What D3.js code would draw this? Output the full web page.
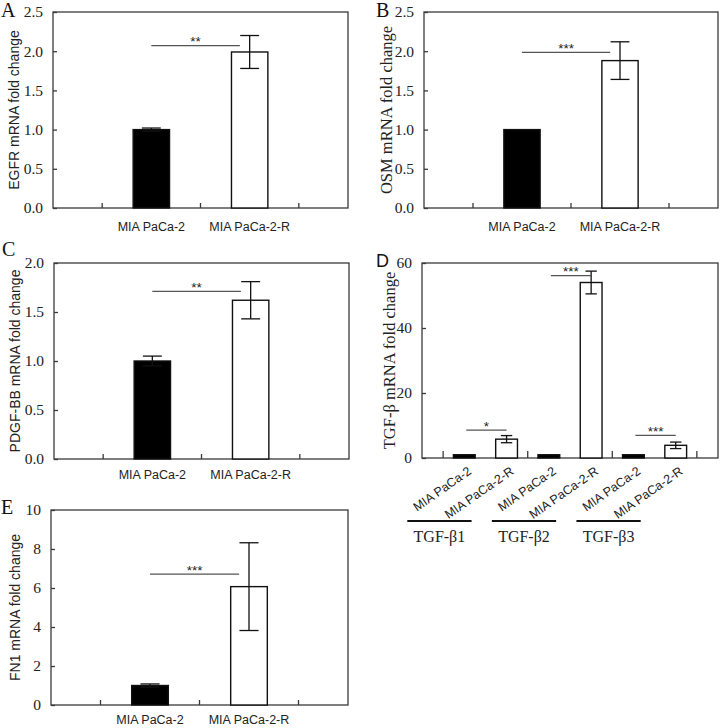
<!DOCTYPE html>
<html><head><meta charset="utf-8">
<script src="https://cdn.jsdelivr.net/npm/d3@7"></script>
<style>body{margin:0;background:#fff}svg{display:block}</style></head>
<body>
<script>
// ---------- data ----------
const cellLines = ["MIA PaCa-2", "MIA PaCa-2-R"];

const egfrMean = [1.00, 1.99];
const egfrErr  = [0.02, 0.21];
const osmMean  = [1.00, 1.88];
const osmErr   = [0.00, 0.24];
const pdgfMean = [1.00, 1.62];
const pdgfErr  = [0.05, 0.19];
const fn1Mean  = [1.00, 6.07];
const fn1Err   = [0.08, 2.25];

const tgfGenes  = ["TGF-β1", "TGF-β2", "TGF-β3"];
const tgfLabels = ["MIA PaCa-2", "MIA PaCa-2-R", "MIA PaCa-2", "MIA PaCa-2-R", "MIA PaCa-2", "MIA PaCa-2-R"];
const tgfMean   = [1.0, 5.8, 1.0, 54.0, 1.0, 3.9];
const tgfErr    = [0.0, 1.1, 0.0, 3.5, 0.0, 1.0];

const ticksA = [0, 0.5, 1.0, 1.5, 2.0, 2.5];
const ticksB = [0, 0.5, 1.0, 1.5, 2.0, 2.5];
const ticksC = [0, 0.5, 1.0, 1.5, 2.0];
const ticksD = [0, 20, 40, 60];
const ticksE = [0, 2, 4, 6, 8, 10];

// significance brackets: label, height (data units)
const sigA = [{label: "**",  y: 2.07}];
const sigB = [{label: "***", y: 1.985}];
const sigC = [{label: "**",  y: 1.71}];
const sigD = [{label: "*", y: 8.6, from: 0, to: 1}, {label: "***", y: 56.1, from: 2, to: 3}, {label: "***", y: 6.95, from: 4, to: 5}];
const sigE = [{label: "***", y: 6.71}];

// ---------- drawing ----------
const svg = d3.select("body").append("svg").attr("width", 720).attr("height", 728);
const SERIF = "'Liberation Serif','Times New Roman',serif";
const SANS  = "'Liberation Sans',Arial,sans-serif";
const FRAME = "#3a3a3a";

function frameAndY(g, box, y, ticks, fmt) {
  g.append("rect").attr("x", box.l).attr("y", box.t)
    .attr("width", box.r - box.l).attr("height", box.b - box.t)
    .attr("fill", "none").attr("stroke", FRAME).attr("stroke-width", 1.3);
  const ax = g.append("g").attr("transform", `translate(${box.l},0)`)
    .call(d3.axisLeft(y).tickValues(ticks).tickFormat(fmt).tickSize(-4).tickPadding(10));
  ax.select(".domain").remove();
  ax.selectAll("line").attr("stroke", FRAME).attr("stroke-width", 1.3);
  ax.selectAll("text").attr("font-family", SERIF).attr("font-size", 15.5).attr("fill", "#222");
}

function ylabel(g, text, x, cy, font, size) {
  g.append("text").attr("transform", `translate(${x},${cy}) rotate(-90)`)
    .attr("text-anchor", "middle").attr("font-family", font).attr("font-size", size)
    .attr("fill", "#222").text(text);
}

function letter(g, t, x, y, font, size) {
  g.append("text").attr("x", x).attr("y", y).attr("font-family", font)
    .attr("font-size", size).attr("fill", "#111").text(t);
}

function bars(g, x, y, pos, means, errs, bw) {
  g.selectAll(null).data(means).enter().append("rect")
    .attr("x", (d, i) => x(pos[i]) - bw / 2).attr("width", bw)
    .attr("y", d => y(d)).attr("height", d => y(0) - y(d))
    .attr("fill", (d, i) => i % 2 === 0 ? "#000" : "#fff")
    .attr("stroke", "#111").attr("stroke-width", 1.4);
  const cw = bw * 0.52;
  means.forEach((m, i) => {
    const e = errs[i];
    if (e <= 0) return;
    const cx = x(pos[i]);
    const eg = g.append("g").attr("stroke", "#111").attr("stroke-width", 1.3);
    eg.append("line").attr("x1", cx).attr("x2", cx).attr("y1", y(m - e)).attr("y2", y(m + e));
    eg.append("line").attr("x1", cx - cw / 2).attr("x2", cx + cw / 2).attr("y1", y(m + e)).attr("y2", y(m + e));
    eg.append("line").attr("x1", cx - cw / 2).attr("x2", cx + cw / 2).attr("y1", y(m - e)).attr("y2", y(m - e));
  });
}

function sigLine(g, x0, x1, yy, label) {
  g.append("line").attr("x1", x0).attr("x2", x1).attr("y1", yy).attr("y2", yy)
    .attr("stroke", "#555").attr("stroke-width", 1.3);
  g.append("text").attr("x", (x0 + x1) / 2).attr("y", yy + 0.5).attr("text-anchor", "middle")
    .attr("font-family", SANS).attr("font-size", 13.5).attr("fill", "#222").text(label);
}

function twoBarPanel(cfg) {
  const g = svg.append("g");
  const box = cfg.box;
  const x = d3.scaleLinear().domain([0, 6]).range([box.l, box.r]);
  const y = d3.scaleLinear().domain([0, cfg.yMax]).range([box.b, box.t]);
  const pos = [2, 4];
  const bw = x(0.74) - x(0);
  frameAndY(g, box, y, cfg.ticks, cfg.fmt);
  // inward x ticks
  g.selectAll(null).data([1, 3, 5]).enter().append("line")
    .attr("x1", d => x(d)).attr("x2", d => x(d)).attr("y1", box.b).attr("y2", box.b - 5)
    .attr("stroke", FRAME).attr("stroke-width", 1.3);
  bars(g, x, y, pos, cfg.mean, cfg.err, bw);
  cfg.sig.forEach(s => sigLine(g, x(2.0), x(3.8), y(s.y), s.label));
  g.selectAll(null).data(cellLines).enter().append("text")
    .attr("x", (d, i) => x(pos[i])).attr("y", box.b + cfg.labDy).attr("text-anchor", "middle")
    .attr("font-family", SANS).attr("font-size", 12.5).attr("fill", "#222").text(d => d);
  ylabel(g, cfg.ylab, cfg.ylabX, (box.t + box.b) / 2, cfg.ylabFont, cfg.ylabSize);
  letter(g, cfg.letter, cfg.letterX, cfg.letterY, cfg.letterFont, cfg.letterSize);
}

const f1 = d3.format(".1f"), f0 = d3.format("d");

twoBarPanel({box: {l: 53, t: 12, r: 348, b: 208}, yMax: 2.5, ticks: ticksA, fmt: f1, labDy: 23,
  mean: egfrMean, err: egfrErr, sig: sigA, ylab: "EGFR mRNA fold change", ylabX: 19,
  ylabFont: SANS, ylabSize: 14, letter: "A", letterX: 1, letterY: 17, letterFont: SERIF, letterSize: 20});
twoBarPanel({box: {l: 424, t: 12, r: 718, b: 208}, yMax: 2.5, ticks: ticksB, fmt: f1, labDy: 23,
  mean: osmMean, err: osmErr, sig: sigB, ylab: "OSM mRNA fold change", ylabX: 392,
  ylabFont: SERIF, ylabSize: 16.5, letter: "B", letterX: 376, letterY: 17, letterFont: SERIF, letterSize: 20});
twoBarPanel({box: {l: 54, t: 263, r: 349, b: 459}, yMax: 2.0, ticks: ticksC, fmt: f1, labDy: 20,
  mean: pdgfMean, err: pdgfErr, sig: sigC, ylab: "PDGF-BB mRNA fold change", ylabX: 20,
  ylabFont: SANS, ylabSize: 14, letter: "C", letterX: 2, letterY: 256, letterFont: SERIF, letterSize: 20});
twoBarPanel({box: {l: 51, t: 510, r: 348, b: 705}, yMax: 10, ticks: ticksE, fmt: f0, labDy: 19,
  mean: fn1Mean, err: fn1Err, sig: sigE, ylab: "FN1 mRNA fold change", ylabX: 20,
  ylabFont: SANS, ylabSize: 14, letter: "E", letterX: 1, letterY: 514, letterFont: SERIF, letterSize: 20});

// Panel D
(function () {
  const g = svg.append("g");
  const box = {l: 422, t: 263, r: 718, b: 458};
  const x = d3.scaleLinear().domain([0, 7]).range([box.l, box.r]);
  const y = d3.scaleLinear().domain([0, 60]).range([box.b, box.t]);
  const pos = tgfMean.map((d, i) => i + 1);
  const bw = x(0.515) - x(0);
  frameAndY(g, box, y, ticksD, f0);
  g.selectAll(null).data([0.5, 2.5, 4.5, 6.5]).enter().append("line")
    .attr("x1", d => x(d)).attr("x2", d => x(d)).attr("y1", box.b).attr("y2", box.b - 7)
    .attr("stroke", FRAME).attr("stroke-width", 1.3);
  bars(g, x, y, pos, tgfMean, tgfErr, bw);
  sigD.forEach(s => sigLine(g, x(pos[s.from]) + 2, x(pos[s.to]), y(s.y), s.label));
  g.selectAll(null).data(tgfLabels).enter().append("text")
    .attr("transform", (d, i) => `translate(${x(pos[i]) + 8},${box.b + 15}) rotate(-35)`)
    .attr("text-anchor", "end").attr("font-family", SANS).attr("font-size", 12.5)
    .attr("fill", "#222").text(d => d);
  tgfGenes.forEach((gname, k) => {
    const cx = x(pos[2 * k] + 0.5) - 46;
    const half = (x(0.76) - x(0));
    g.append("line").attr("x1", cx - half).attr("x2", cx + half).attr("y1", 521).attr("y2", 521)
      .attr("stroke", "#111").attr("stroke-width", 2);
    g.append("text").attr("x", cx).attr("y", 542).attr("text-anchor", "middle")
      .attr("font-family", SERIF).attr("font-size", 16).attr("fill", "#222").text(gname);
  });
  ylabel(g, "TGF-β mRNA fold change", 395, (box.t + box.b) / 2, SERIF, 16.5);
  letter(g, "D", 376, 267, SANS, 18);
})();
</script>
</body></html>
